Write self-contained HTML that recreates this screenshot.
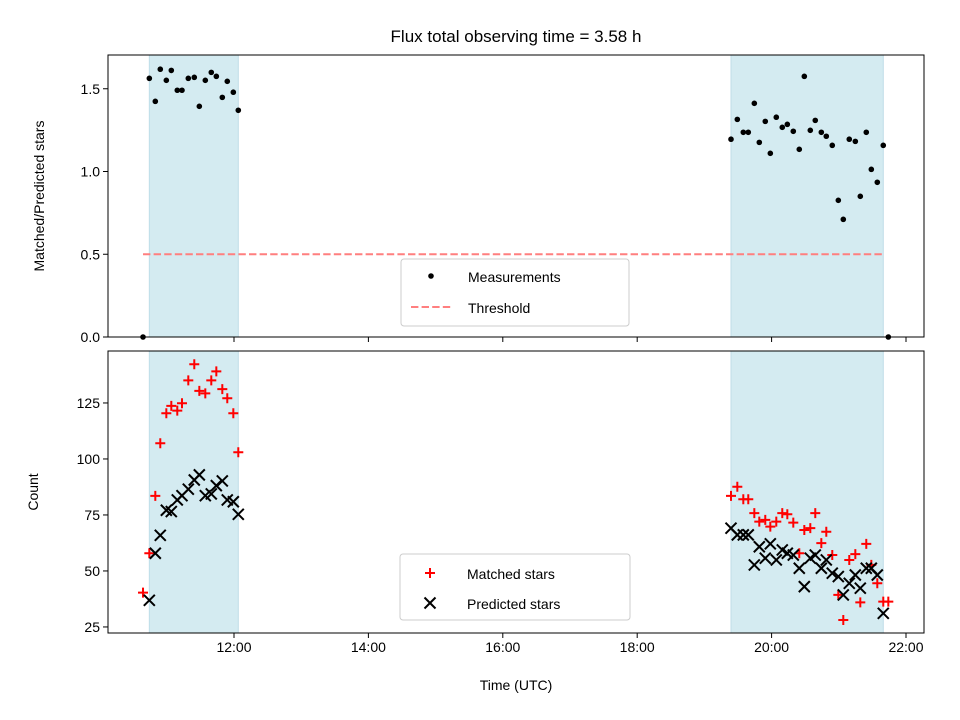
<!DOCTYPE html>
<html><head><meta charset="utf-8"><style>
body{margin:0;background:#fff}
svg{display:block;font-family:"Liberation Sans","DejaVu Sans",sans-serif}
</style></head><body>
<svg id="c" width="960" height="720"></svg>
<script>
const timesTop=[10.646,10.74,10.829,10.903,10.993,11.067,11.156,11.226,11.32,11.409,11.484,11.573,11.662,11.737,11.826,11.90,11.99,12.064,
19.396,19.49,19.579,19.653,19.743,19.817,19.906,19.981,20.07,20.159,20.234,20.323,20.412,20.487,20.576,20.65,20.74,20.814,20.903,20.993,21.067,21.156,21.246,21.32,21.409,21.484,21.573,21.662,21.737];
const ratioVals=[0,1.563,1.424,1.618,1.551,1.611,1.491,1.491,1.563,1.569,1.394,1.551,1.599,1.575,1.448,1.545,1.479,1.370,
1.195,1.315,1.237,1.237,1.412,1.176,1.303,1.110,1.328,1.267,1.285,1.243,1.134,1.575,1.249,1.309,1.237,1.213,1.158,0.826,0.711,1.195,1.182,0.850,1.237,1.013,0.935,1.158,0];
const matchedVals=[40.3,57.9,83.5,107,120.4,123.7,121.6,124.9,135.1,142.3,130.4,129.3,135.1,139.1,131.2,127.1,120.4,103,
83.5,87.6,82.0,82.0,75.8,72.0,72.8,69.8,72.0,75.8,75.3,71.6,57.9,68.3,69.1,75.8,62.4,67.5,57.1,39.3,28.1,54.9,57.5,36.0,62.1,52.7,44.5,36.3,36.3];
const predTimes=timesTop.slice(1,18).concat(timesTop.slice(18,46));
const predVals=[36.9,57.9,65.9,77.1,76.5,81.7,83.6,86.5,90.6,92.9,83.6,84.4,88.1,90.2,81.7,80.9,75.3,
69.1,66.1,66.1,66.1,52.7,60.8,55.7,62.1,54.9,59.4,57.9,57.1,51.2,43.0,55.7,57.1,51.2,54.9,49.0,47.5,39.3,44.5,48.2,42.3,51.2,51.2,48.2,31.1];
const spans=[[10.74,12.064],[19.396,21.662]];
const threshold=0.5, thrStart=10.646, thrEnd=21.662;
const xTickVals=[12,14,16,18,20,22];
const xTickLabels=["12:00","14:00","16:00","18:00","20:00","22:00"];
const topTicks=[0,0.5,1.0,1.5], topTickLabels=["0.0","0.5","1.0","1.5"];
const botTicks=[25,50,75,100,125], botTickLabels=["25","50","75","100","125"];

const NS="http://www.w3.org/2000/svg", svg=document.getElementById('c');
const L=108,R=924,T1=55,B1=337,T2=351,B2=633;
const x=t=>L+(t-10.125)/(22.268-10.125)*(R-L);
const y1=v=>B1-v/1.704*(B1-T1);
const y2=v=>B2-(v-22.3)/(148.2-22.3)*(B2-T2);
function el(tag,a,parent){const e=document.createElementNS(NS,tag);for(const k in a)e.setAttribute(k,a[k]);(parent||svg).appendChild(e);return e;}
function txt(s,a){const e=el('text',a);e.textContent=s;return e;}

// spans
[[T1,B1],[T2,B2]].forEach(([tp,bt],p)=>spans.forEach((s,i)=>{
 const r=el('rect',{x:x(s[0]),y:tp,width:x(s[1])-x(s[0]),height:bt-tp,fill:'#d4ebf1',stroke:'#bfdde8','stroke-width':1});
 
 
}));
// threshold
const th=el('line',{x1:x(thrStart),x2:x(thrEnd),y1:y1(threshold),y2:y1(threshold),stroke:'#ff7f7f','stroke-width':2,'stroke-dasharray':'7.4,3.2'});


// measurements
timesTop.forEach((t,i)=>{const c=el('circle',{cx:x(t),cy:y1(ratioVals[i]),r:2.8,fill:'#000'});
 
 });
// matched
timesTop.forEach((t,i)=>{const cx=x(t),cy=y2(matchedVals[i]);
 const p=el('path',{d:`M${cx-5},${cy}H${cx+5}M${cx},${cy-5}V${cy+5}`,stroke:'#f00','stroke-width':2});
 
 });
// predicted
predTimes.forEach((t,i)=>{const cx=x(t),cy=y2(predVals[i]);
 const p=el('path',{d:`M${cx-5.5},${cy-5.5}L${cx+5.5},${cy+5.5}M${cx-5.5},${cy+5.5}L${cx+5.5},${cy-5.5}`,stroke:'#000','stroke-width':2});
 
 });
// axes frames
[[T1,B1,'top'],[T2,B2,'bottom']].forEach(([tp,bt,n])=>{
 const r=el('rect',{x:L,y:tp,width:R-L,height:bt-tp,fill:'none',stroke:'#000','stroke-width':1});
 
 
 xTickVals.forEach((v,i)=>{el('line',{x1:x(v),x2:x(v),y1:bt,y2:bt+5,stroke:'#000'});
  if(n==='bottom'){const t=txt(xTickLabels[i],{x:x(v),y:bt+19,'text-anchor':'middle','font-size':14});
   
   }});
});
topTicks.forEach((v,i)=>{el('line',{x1:L-5,x2:L,y1:y1(v),y2:y1(v),stroke:'#000'});
 const t=txt(topTickLabels[i],{x:L-8,y:y1(v)+5,'text-anchor':'end','font-size':14});
 
 });
botTicks.forEach((v,i)=>{el('line',{x1:L-5,x2:L,y1:y2(v),y2:y2(v),stroke:'#000'});
 const t=txt(botTickLabels[i],{x:L-8,y:y2(v)+5,'text-anchor':'end','font-size':14});
 
 });
let t=txt('Flux total observing time = 3.58 h',{x:516,y:42,'text-anchor':'middle','font-size':17});

t=txt('Time (UTC)',{x:516,y:690,'text-anchor':'middle','font-size':14});

t=txt('Matched/Predicted stars',{x:0,y:0,'text-anchor':'middle','font-size':14,transform:'translate(44,196) rotate(-90)'});

t=txt('Count',{x:0,y:0,'text-anchor':'middle','font-size':14,transform:'translate(38,492) rotate(-90)'});

// legends
let g=el('rect',{x:401,y:259,width:228,height:67,rx:3,fill:'#fff','fill-opacity':0.8,stroke:'#ccc'});

el('circle',{cx:431,cy:276,r:2.8,fill:'#000'});
t=txt('Measurements',{x:468,y:282,'font-size':14});
el('line',{x1:411,x2:451,y1:307,y2:307,stroke:'#ff7f7f','stroke-width':2,'stroke-dasharray':'7.4,3.2'});
t=txt('Threshold',{x:468,y:313,'font-size':14});
g=el('rect',{x:400,y:554,width:230,height:66,rx:3,fill:'#fff','fill-opacity':0.8,stroke:'#ccc'});

el('path',{d:'M425,573H435M430,568V578',stroke:'#f00','stroke-width':2});
t=txt('Matched stars',{x:467,y:579,'font-size':14});
el('path',{d:'M424.5,597.5L435.5,608.5M424.5,608.5L435.5,597.5',stroke:'#000','stroke-width':2});
t=txt('Predicted stars',{x:467,y:609,'font-size':14});
</script>
</body></html>
